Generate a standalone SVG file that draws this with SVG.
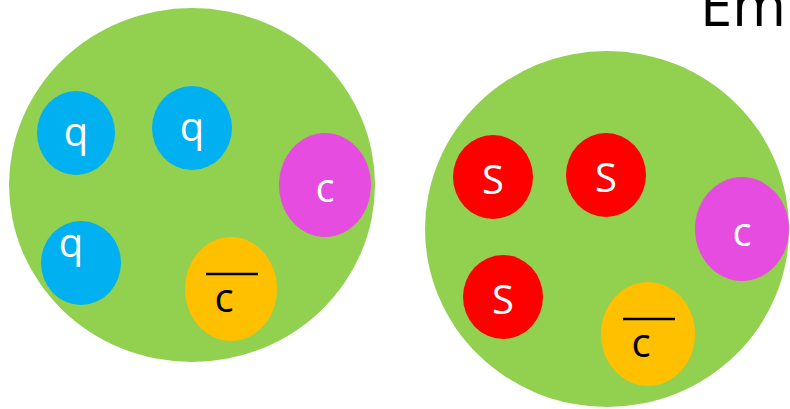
<svg xmlns="http://www.w3.org/2000/svg" width="790" height="409" viewBox="0 0 790 409">
<style>
.big{fill:#92d050}
.q{fill:#00b0f0}
.s{fill:#ff0000}
.m{fill:#e64ce0}
.o{fill:#ffc000}
text{font-family:"Open Sans","Liberation Sans",sans-serif;text-anchor:middle}
.w{fill:#ffffff;font-size:40px}
.k{fill:#000000;font-size:40px}
</style>
<rect width="790" height="409" fill="#ffffff"/>
<text x="700" y="26" style="font-size:58px;text-anchor:start" fill="#000">Em</text>
<g id="groupL">
<ellipse class="big" cx="192" cy="185" rx="183" ry="177"/>
</g>
<g id="q1"><ellipse class="q" cx="76" cy="133" rx="39" ry="42"/><text class="w" x="76" y="146">q</text></g>
<g id="q2"><ellipse class="q" cx="192" cy="128" rx="40" ry="42"/><text class="w" x="192" y="141">q</text></g>
<g id="q3"><ellipse class="q" cx="81" cy="263" rx="40" ry="42"/><text class="w" x="71" y="257">q</text></g>
<g id="cL"><ellipse class="m" cx="325" cy="185" rx="46" ry="52"/><text class="w" x="325" y="202">c</text></g>
<g id="cbarL"><ellipse class="o" cx="231" cy="289" rx="46" ry="52"/><line x1="206" y1="274" x2="258" y2="274" stroke="#000" stroke-width="2.5"/><text class="k" x="224" y="312">c</text></g>
<g id="groupR">
<ellipse class="big" cx="607" cy="229" rx="182" ry="178"/>
</g>
<g id="s1"><ellipse class="s" cx="493" cy="177" rx="40" ry="42"/><text class="w" x="493" y="194">S</text></g>
<g id="s2"><ellipse class="s" cx="606" cy="175" rx="40" ry="42"/><text class="w" x="606" y="192">S</text></g>
<g id="s3"><ellipse class="s" cx="503" cy="297" rx="40" ry="42"/><text class="w" x="503" y="314">S</text></g>
<g id="cR"><ellipse class="m" cx="742" cy="229" rx="47" ry="52"/><text class="w" x="742" y="246">c</text></g>
<g id="cbarR"><ellipse class="o" cx="648" cy="334" rx="47" ry="52"/><line x1="623" y1="319" x2="675" y2="319" stroke="#000" stroke-width="2.5"/><text class="k" x="641" y="357">c</text></g>
<g id="connectors"></g>
</svg>
